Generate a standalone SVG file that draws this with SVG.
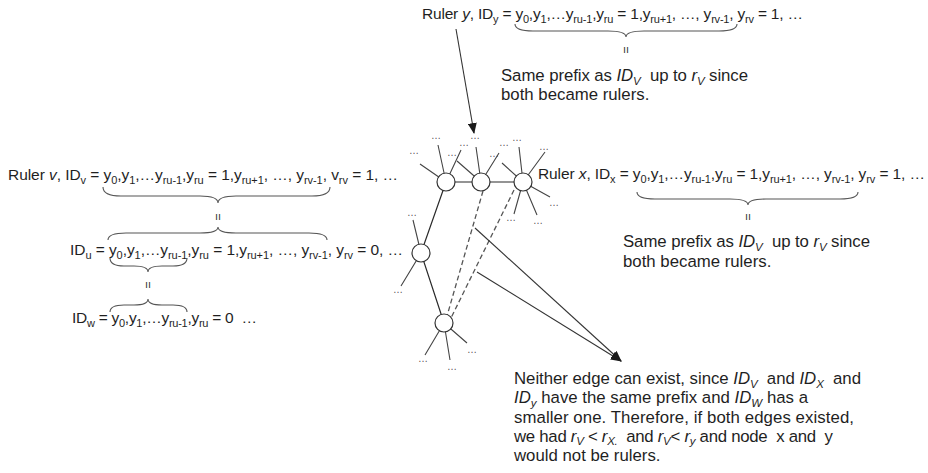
<svg xmlns="http://www.w3.org/2000/svg" width="928" height="473" viewBox="0 0 928 473">
<defs>
<marker id="ah" markerWidth="11" markerHeight="9" refX="10" refY="4.5" orient="auto" markerUnits="userSpaceOnUse"><path d="M0,0 L11,4.5 L0,9 z" fill="#1a1a1a"/></marker>
<style>
.f{font-family:"Liberation Sans",Arial,sans-serif;font-size:15.5px;fill:#1f1f1f}
.p{font-family:"Liberation Sans",Arial,sans-serif;font-size:16.8px;fill:#1f1f1f}
.s{font-size:11px}
.ps{font-size:11.5px}
.i{font-style:italic}
.dots{font-family:"Liberation Sans",Arial,sans-serif;font-size:10px;fill:#555;text-anchor:middle}
.eq{font-family:"Liberation Sans",Arial,sans-serif;font-size:12px;fill:#333;text-anchor:middle}
.node{fill:#fff;stroke:#333;stroke-width:1.2}
.edge{stroke:#2a2a2a;stroke-width:1.2;fill:none}
.leaf{stroke:#444;stroke-width:1.1;fill:none}
.dash{stroke:#555;stroke-width:1.3;stroke-dasharray:5 3;fill:none}
.arrow{stroke:#333;stroke-width:1.1;fill:none;marker-end:url(#ah)}
.brace{stroke:#555;stroke-width:1.1;fill:none}
</style>
</defs>
<rect width="928" height="473" fill="#fff"/>

<g id="connectors">
<path class="edge" d="M446,182 L481,182 L523,182"/>
<path class="edge" d="M446,182 L421,253 L444,323"/>
<path class="dash" d="M483,191 L447,316"/>
<path class="dash" d="M514,190 L451,318"/>
<g id="leaf-branches">
<path class="leaf" d="M446,182 L438,145 M446,182 L420,164 M446,182 L461,150"/>
<path class="leaf" d="M481,182 L476,147 M481,182 L457,161 M481,182 L499,153"/>
<path class="leaf" d="M523,182 L519,147 M523,182 L502,163 M523,182 L545,152 M523,182 L550,197 M523,182 L537,215 M523,182 L514,214"/>
<path class="leaf" d="M421,253 L413,220 M421,253 L401,286"/>
<path class="leaf" d="M444,323 L425,355 M444,323 L450,360 M444,323 L467,343"/>
</g>
<path class="arrow" d="M456,29 L474,133"/>
<path class="arrow" d="M475,228 L621,361"/>
<path class="arrow" d="M477,272 L621,361"/>
</g>

<g id="node-v"><circle class="node" cx="446" cy="182" r="9"/></g>
<g id="node-y"><circle class="node" cx="481" cy="182" r="9"/></g>
<g id="node-x"><circle class="node" cx="523" cy="182" r="9"/></g>
<g id="node-u"><circle class="node" cx="421" cy="253" r="9"/></g>
<g id="node-w"><circle class="node" cx="444" cy="323" r="9"/></g>

<g id="leaf-dots">
<text class="dots" x="436" y="139">…</text>
<text class="dots" x="414" y="154">…</text>
<text class="dots" x="464" y="146">…</text>
<text class="dots" x="475" y="139">…</text>
<text class="dots" x="452" y="156">…</text>
<text class="dots" x="494" y="157">…</text>
<text class="dots" x="517" y="141">…</text>
<text class="dots" x="504" y="146">…</text>
<text class="dots" x="544" y="150">…</text>
<text class="dots" x="554" y="206">…</text>
<text class="dots" x="538" y="224">…</text>
<text class="dots" x="511" y="221">…</text>
<text class="dots" x="412" y="216">…</text>
<text class="dots" x="398" y="293">…</text>
<text class="dots" x="423" y="362">…</text>
<text class="dots" x="452" y="370">…</text>
<text class="dots" x="472" y="353">…</text>
</g>

<g id="ruler-y-text">
<text class="f" x="422" y="19" textLength="381" lengthAdjust="spacing">Ruler <tspan class="i">y</tspan>, ID<tspan class="s" dy="3.5">y</tspan><tspan dy="-3.5"> = y</tspan><tspan class="s" dy="3.5">0</tspan><tspan dy="-3.5">,y</tspan><tspan class="s" dy="3.5">1</tspan><tspan dy="-3.5">,…y</tspan><tspan class="s" dy="3.5">ru-1</tspan><tspan dy="-3.5">,y</tspan><tspan class="s" dy="3.5">ru</tspan><tspan dy="-3.5"> = 1,y</tspan><tspan class="s" dy="3.5">ru+1</tspan><tspan dy="-3.5">, …, y</tspan><tspan class="s" dy="3.5">rv-1</tspan><tspan dy="-3.5">, y</tspan><tspan class="s" dy="3.5">rv</tspan><tspan dy="-3.5"> = 1, …</tspan></text>
<path class="brace" d="M515,24 Q515,31 533,31 L608,31 Q626,31 626,37 Q626,31 644,31 L719,31 Q737,31 737,24"/>
<text class="eq" transform="translate(626,50) rotate(90)" y="4">=</text>
<text class="p" x="501" y="81" textLength="247" lengthAdjust="spacing">Same prefix as <tspan class="i">ID</tspan><tspan class="i ps" dy="3.5">V</tspan><tspan dy="-3.5">&#160; up to </tspan><tspan class="i">r</tspan><tspan class="i ps" dy="3.5">V</tspan><tspan dy="-3.5"> since</tspan></text>
<text class="p" x="501" y="100">both became rulers.</text>
</g>

<g id="ruler-v-text">
<text class="f" x="8" y="180" textLength="390" lengthAdjust="spacing">Ruler <tspan class="i">v</tspan>, ID<tspan class="s" dy="3.5">v</tspan><tspan dy="-3.5"> = y</tspan><tspan class="s" dy="3.5">0</tspan><tspan dy="-3.5">,y</tspan><tspan class="s" dy="3.5">1</tspan><tspan dy="-3.5">,…y</tspan><tspan class="s" dy="3.5">ru-1</tspan><tspan dy="-3.5">,y</tspan><tspan class="s" dy="3.5">ru</tspan><tspan dy="-3.5"> = 1,y</tspan><tspan class="s" dy="3.5">ru+1</tspan><tspan dy="-3.5">, …, y</tspan><tspan class="s" dy="3.5">rv-1</tspan><tspan dy="-3.5">, v</tspan><tspan class="s" dy="3.5">rv</tspan><tspan dy="-3.5"> = 1, …</tspan></text>
<path class="brace" d="M103,187 Q103,196 121,196 L200,196 Q218,196 218,203 Q218,196 236,196 L312,196 Q330,196 330,187"/>
<text class="eq" transform="translate(218,217) rotate(90)" y="4">=</text>
<path class="brace" d="M108,240 Q108,233 126,233 L200,233 Q218,233 218,227 Q218,233 236,233 L309,233 Q327,233 327,240"/>
</g>

<g id="id-u-text">
<text class="f" x="70" y="255" textLength="333" lengthAdjust="spacing">ID<tspan class="s" dy="3.5">u</tspan><tspan dy="-3.5"> = y</tspan><tspan class="s" dy="3.5">0</tspan><tspan dy="-3.5">,y</tspan><tspan class="s" dy="3.5">1</tspan><tspan dy="-3.5">,…y</tspan><tspan class="s" dy="3.5">ru-1</tspan><tspan dy="-3.5">,y</tspan><tspan class="s" dy="3.5">ru</tspan><tspan dy="-3.5"> = 1,y</tspan><tspan class="s" dy="3.5">ru+1</tspan><tspan dy="-3.5">, …, y</tspan><tspan class="s" dy="3.5">rv-1</tspan><tspan dy="-3.5">, y</tspan><tspan class="s" dy="3.5">rv</tspan><tspan dy="-3.5"> = 0, …</tspan></text>
<path class="brace" d="M110,258 Q110,266 124,266 L134,266 Q148,266 148,272 Q148,266 162,266 L173,266 Q187,266 187,258"/>
<text class="eq" transform="translate(148,285) rotate(90)" y="4">=</text>
<path class="brace" d="M110,312 Q110,305 124,305 L134,305 Q148,305 148,299 Q148,305 162,305 L173,305 Q187,305 187,312"/>
</g>

<g id="id-w-text">
<text class="f" x="72" y="323" textLength="185" lengthAdjust="spacing">ID<tspan class="s" dy="3.5">w</tspan><tspan dy="-3.5"> = y</tspan><tspan class="s" dy="3.5">0</tspan><tspan dy="-3.5">,y</tspan><tspan class="s" dy="3.5">1</tspan><tspan dy="-3.5">,…y</tspan><tspan class="s" dy="3.5">ru-1</tspan><tspan dy="-3.5">,y</tspan><tspan class="s" dy="3.5">ru</tspan><tspan dy="-3.5"> = 0 &#160;…</tspan></text>
</g>

<g id="ruler-x-text">
<text class="f" x="538" y="179" textLength="387" lengthAdjust="spacing">Ruler <tspan class="i">x</tspan>, ID<tspan class="s" dy="3.5">x</tspan><tspan dy="-3.5"> = y</tspan><tspan class="s" dy="3.5">0</tspan><tspan dy="-3.5">,y</tspan><tspan class="s" dy="3.5">1</tspan><tspan dy="-3.5">,…y</tspan><tspan class="s" dy="3.5">ru-1</tspan><tspan dy="-3.5">,y</tspan><tspan class="s" dy="3.5">ru</tspan><tspan dy="-3.5"> = 1,y</tspan><tspan class="s" dy="3.5">ru+1</tspan><tspan dy="-3.5">, …, y</tspan><tspan class="s" dy="3.5">rv-1</tspan><tspan dy="-3.5">, y</tspan><tspan class="s" dy="3.5">rv</tspan><tspan dy="-3.5"> = 1, …</tspan></text>
<path class="brace" d="M637,192 Q637,199 655,199 L730,199 Q748,199 748,205 Q748,199 766,199 L840,199 Q858,199 858,192"/>
<text class="eq" transform="translate(748,217) rotate(90)" y="4">=</text>
<text class="p" x="623" y="247" textLength="247" lengthAdjust="spacing">Same prefix as <tspan class="i">ID</tspan><tspan class="i ps" dy="3.5">V</tspan><tspan dy="-3.5">&#160; up to </tspan><tspan class="i">r</tspan><tspan class="i ps" dy="3.5">V</tspan><tspan dy="-3.5"> since</tspan></text>
<text class="p" x="623" y="267">both became rulers.</text>
</g>

<g id="conclusion-text">
<text class="p" x="514" y="384" textLength="347" lengthAdjust="spacing">Neither edge can exist, since <tspan class="i">ID</tspan><tspan class="i ps" dy="3.5">V</tspan><tspan dy="-3.5">&#160; and </tspan><tspan class="i">ID</tspan><tspan class="i ps" dy="3.5">X</tspan><tspan dy="-3.5">&#160; and</tspan></text>
<text class="p" x="514" y="403.3" textLength="294" lengthAdjust="spacing"><tspan class="i">ID</tspan><tspan class="i ps" dy="3.5">y</tspan><tspan dy="-3.5"> have the same prefix and </tspan><tspan class="i">ID</tspan><tspan class="i ps" dy="3.5">W</tspan><tspan dy="-3.5"> has a</tspan></text>
<text class="p" x="514" y="422.6" textLength="340" lengthAdjust="spacing">smaller one. Therefore, if both edges existed,</text>
<text class="p" x="514" y="441.8" textLength="319" lengthAdjust="spacing">we had <tspan class="i">r</tspan><tspan class="i ps" dy="3.5">V</tspan><tspan dy="-3.5"> &lt; </tspan><tspan class="i">r</tspan><tspan class="i ps" dy="3.5">X.</tspan><tspan dy="-3.5">&#160; and </tspan><tspan class="i">r</tspan><tspan class="i ps" dy="3.5">V</tspan><tspan dy="-3.5">&lt; </tspan><tspan class="i">r</tspan><tspan class="i ps" dy="3.5">y</tspan><tspan dy="-3.5"> and node &#160;x and &#160;y</tspan></text>
<text class="p" x="514" y="461">would not be rulers.</text>
</g>
</svg>
